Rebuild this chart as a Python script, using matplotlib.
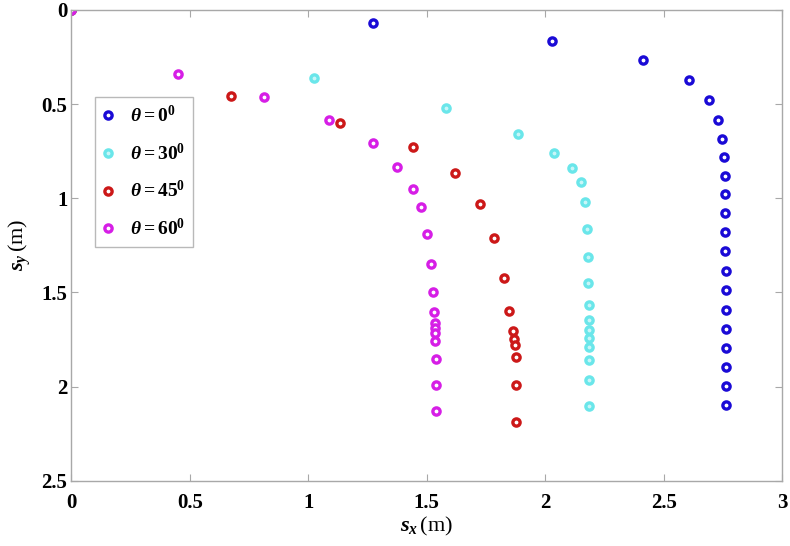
import numpy as np
import matplotlib
matplotlib.use("Agg")
import matplotlib.pyplot as plt

plt.rcParams['font.family'] = ['Liberation Serif', 'DejaVu Serif']
plt.rcParams['font.weight'] = 'bold'
plt.rcParams['mathtext.fontset'] = 'custom'
plt.rcParams['mathtext.rm'] = 'Liberation Serif:bold'
plt.rcParams['mathtext.it'] = 'Liberation Serif:italic:bold'
plt.rcParams['mathtext.bf'] = 'Liberation Serif:bold'

# Trajectory points [m]
sx_0 = [0.0, 1.271, 2.027, 2.413, 2.607, 2.690, 2.728, 2.748, 2.755, 2.758, 2.759, 2.760, 2.761,
        2.761, 2.762, 2.763, 2.763, 2.763, 2.763, 2.763, 2.763, 2.763]
sy_0 = [0.0, 0.069, 0.165, 0.268, 0.372, 0.479, 0.583, 0.684, 0.782, 0.882, 0.979, 1.080, 1.179,
        1.280, 1.384, 1.488, 1.593, 1.696, 1.796, 1.895, 1.995, 2.097]

sx_30 = [0.0, 1.023, 1.581, 1.884, 2.037, 2.113, 2.150, 2.167, 2.177, 2.181, 2.182, 2.183, 2.184,
         2.185, 2.185, 2.185, 2.185, 2.185, 2.185]
sy_30 = [0.0, 0.363, 0.522, 0.660, 0.760, 0.838, 0.913, 1.020, 1.163, 1.310, 1.451, 1.566, 1.646,
         1.700, 1.743, 1.788, 1.858, 1.964, 2.106]

sx_45 = [0.0, 0.675, 1.134, 1.440, 1.617, 1.724, 1.785, 1.825, 1.849, 1.863, 1.868, 1.874, 1.875,
         1.875, 1.875]
sy_45 = [0.0, 0.457, 0.602, 0.729, 0.864, 1.029, 1.212, 1.425, 1.598, 1.703, 1.748, 1.782, 1.844,
         1.991, 2.186]

sx_60 = [0.0, 0.450, 0.811, 1.086, 1.272, 1.375, 1.441, 1.476, 1.499, 1.516, 1.525, 1.530, 1.533,
         1.534, 1.535, 1.536, 1.537, 1.537, 1.537]
sy_60 = [0.0, 0.340, 0.464, 0.584, 0.708, 0.832, 0.952, 1.048, 1.189, 1.349, 1.496, 1.602, 1.664,
         1.690, 1.717, 1.757, 1.853, 1.991, 2.129]

labels = [r'$\theta = 0^0$', r'$\theta = 30^0$', r'$\theta = 45^0$', r'$\theta = 60^0$']
colors = ['#1a0ad6', '#6ae6ea', '#cc1818', '#d61ee6']
faces = ['white', '#c8f6f8', 'white', 'white']

x_ticks = [0, 0.5, 1, 1.5, 2, 2.5, 3]
y_ticks = [0, 0.5, 1, 1.5, 2, 2.5]

fig = plt.figure(figsize=(7.9, 5.46), dpi=100)
ax = fig.add_axes([0.0905, 0.1196, 0.8995, 0.8623])

series = [(sx_0, sy_0), (sx_30, sy_30), (sx_45, sy_45), (sx_60, sy_60)]
for (sx, sy), lab, col, fc in zip(series, labels, colors, faces):
    ax.plot(sx, sy, linestyle='none', marker='o', markersize=5.2, markeredgewidth=2.4,
            markeredgecolor=col, markerfacecolor=fc, label=lab)

ax.set_xlim(0, 3)
ax.set_ylim(2.5, 0)
ax.set_xticks(x_ticks)
ax.set_xticklabels(['0', '0.5', '1', '1.5', '2', '2.5', '3'])
ax.set_yticks(y_ticks)
ax.set_yticklabels(['0', '0.5', '1', '1.5', '2', '2.5'])

for sp in ax.spines.values():
    sp.set_color('#a8a8a8')
    sp.set_linewidth(1.0)
ax.tick_params(direction='in', length=5, width=0.8, color='#a8a8a8', top=True, right=True,
               labelsize=15)
ax.tick_params(axis='x', pad=9)
ax.tick_params(axis='y', pad=3)

ax.set_xlabel(r'$s_x\,$(m)', fontsize=16, labelpad=1)
ax.set_ylabel(r'$s_y\,$(m)', fontsize=16, labelpad=6)

leg = ax.legend(loc='upper left', bbox_to_anchor=(0.033, 0.815), borderaxespad=0, fontsize=14,
                frameon=True, fancybox=False, edgecolor='#a8a8a8', handletextpad=0.9,
                labelspacing=0.85, borderpad=0.4, handlelength=0.5)
leg.get_frame().set_linewidth(1.0)

fig.savefig('out.png', dpi=100)
